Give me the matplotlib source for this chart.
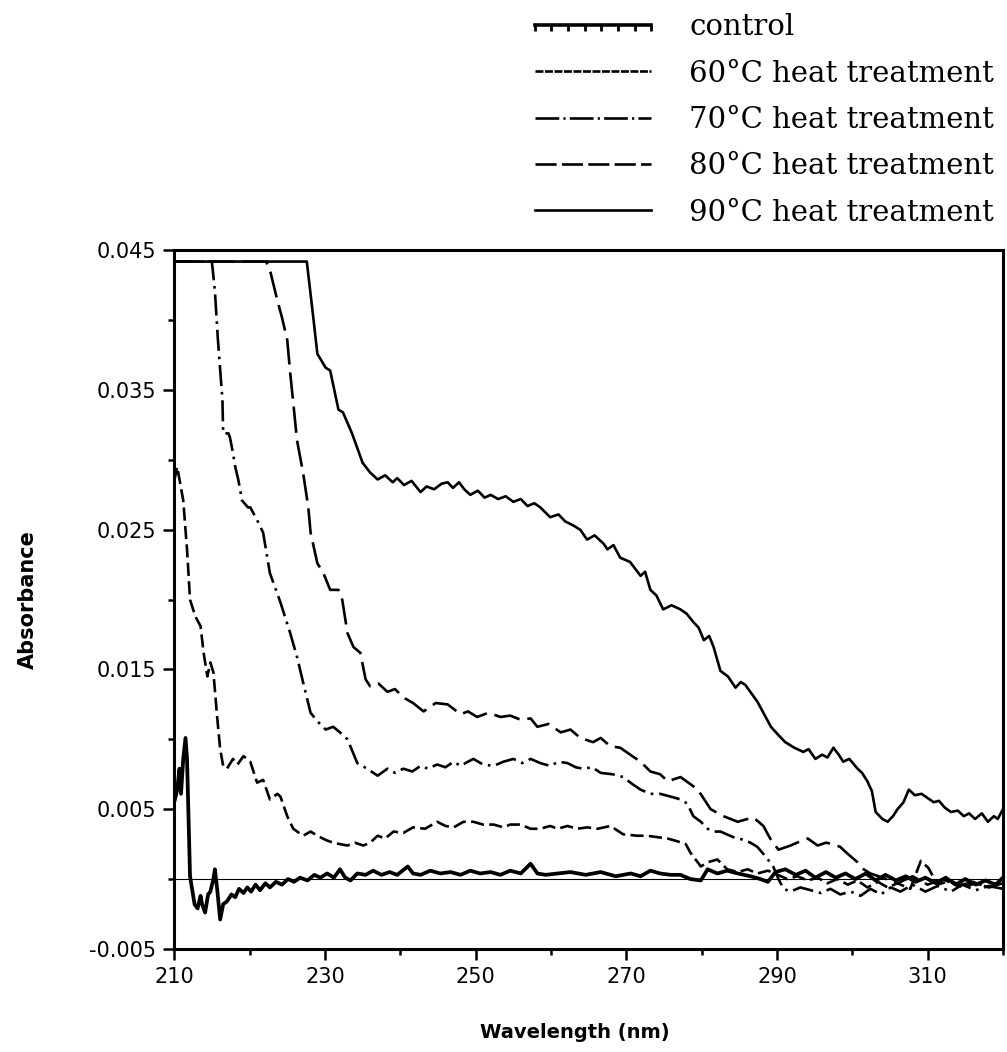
import numpy as np
import matplotlib
matplotlib.use("Agg")
import matplotlib.pyplot as plt
from matplotlib.lines import Line2D

# ---- data (wavelength nm, absorbance) ----
wl_control = [210.0, 210.4, 210.7, 210.9, 211.2, 211.5, 211.7, 212.1, 212.7, 213.1, 213.5, 213.7,
              214.1, 214.5, 214.8, 215.2, 215.4, 215.7, 216.1, 216.5, 217.0, 217.6, 218.1, 218.6,
              219.2, 219.7, 220.2, 220.8, 221.4, 222.1, 222.7, 223.5, 224.3, 225.1, 225.9, 226.7,
              227.7, 228.6, 229.4, 230.3, 231.2, 232.0, 232.7, 233.4, 234.3, 235.4, 236.4, 237.5,
              238.6, 239.6, 241.0, 241.7, 242.7, 244.0, 245.3, 246.7, 248.0, 249.3, 250.6, 252.0,
              253.3, 254.6, 256.0, 257.3, 258.2, 259.3, 260.9, 262.6, 264.6, 266.6, 268.6, 270.6,
              271.9, 273.2, 274.5, 275.9, 277.2, 278.5, 279.9, 280.8, 282.1, 283.4, 284.8, 286.5,
              287.8, 288.8, 289.8, 291.1, 292.5, 293.8, 295.1, 296.5, 297.8, 299.1, 300.4, 301.8,
              303.1, 304.4, 305.8, 307.1, 308.4, 309.7, 311.1, 312.4, 313.7, 315.0, 316.4, 317.7,
              319.0, 320.0]
abs_control = [0.0055, 0.0064, 0.0079, 0.0061, 0.0086, 0.0101, 0.0086, 0.0002, -0.0018, -0.0021, -0.0012, -0.0018,
               -0.0024, -0.0011, -0.0009, 0.0000, 0.0007, -0.0007, -0.0029, -0.0018, -0.0016, -0.0011, -0.0013, -0.0007,
               -0.0010, -0.0006, -0.0009, -0.0004, -0.0008, -0.0003, -0.0006, -0.0002, -0.0004, 0.0000, -0.0002, 0.0001,
               -0.0001, 0.0003, 0.0001, 0.0004, 0.0001, 0.0007, 0.0001, -0.0001, 0.0004, 0.0003, 0.0006, 0.0003,
               0.0005, 0.0003, 0.0009, 0.0004, 0.0003, 0.0006, 0.0004, 0.0005, 0.0003, 0.0006, 0.0004, 0.0005,
               0.0003, 0.0006, 0.0004, 0.0011, 0.0004, 0.0003, 0.0004, 0.0005, 0.0003, 0.0005, 0.0002, 0.0004,
               0.0002, 0.0006, 0.0004, 0.0003, 0.0003, 0.0000, -0.0001, 0.0007, 0.0004, 0.0006, 0.0004, 0.0002,
               0.0000, -0.0002, 0.0005, 0.0007, 0.0003, 0.0006, 0.0001, 0.0005, 0.0001, 0.0004, 0.0000, 0.0004,
               -0.0001, 0.0003, -0.0001, 0.0002, -0.0002, 0.0001, -0.0003, 0.0001, -0.0004, 0.0000, -0.0004, -0.0001,
               -0.0004, 0.0001]

wl_60 = [210.0, 210.4, 211.2, 211.7, 212.1, 212.8, 213.5, 213.9, 214.4, 214.8, 215.2, 215.7,
         216.1, 216.5, 217.0, 217.8, 218.4, 219.2, 220.1, 221.0, 221.8, 222.7, 223.7, 224.1,
         225.0, 225.8, 227.1, 228.1, 229.0, 230.1, 231.1, 232.0, 233.0, 234.0, 235.1, 236.0,
         237.0, 238.0, 239.1, 240.4, 241.7, 243.3, 244.9, 246.0, 247.1, 248.4, 249.7, 251.0,
         252.4, 253.7, 254.6, 256.0, 257.3, 258.6, 259.9, 260.9, 262.2, 263.5, 264.8, 266.2,
         267.9, 269.6, 271.5, 272.8, 274.1, 275.5, 276.8, 277.9, 278.5, 279.9, 280.8, 282.1,
         283.4, 284.8, 286.1, 287.4, 288.8, 290.1, 291.4, 292.7, 294.1, 295.4, 296.7, 298.0,
         299.4, 300.7, 302.0, 303.4, 304.7, 306.0, 307.7, 309.1, 310.1, 311.3, 313.1, 314.6,
         316.4, 318.1, 320.0]
abs_60 = [0.0285, 0.0295, 0.0271, 0.0236, 0.0200, 0.0188, 0.0181, 0.0162, 0.0145, 0.0155, 0.0148, 0.0116,
          0.0093, 0.0081, 0.0079, 0.0086, 0.0082, 0.0088, 0.0084, 0.0069, 0.0071, 0.0057, 0.0061, 0.0059,
          0.0045, 0.0036, 0.0031, 0.0034, 0.0031, 0.0028, 0.0026, 0.0025, 0.0024, 0.0026, 0.0024, 0.0026,
          0.0031, 0.0029, 0.0034, 0.0033, 0.0037, 0.0036, 0.0041, 0.0038, 0.0037, 0.0041, 0.0041, 0.0039,
          0.0039, 0.0037, 0.0039, 0.0039, 0.0036, 0.0036, 0.0038, 0.0036, 0.0038, 0.0036, 0.0037, 0.0036,
          0.0038, 0.0032, 0.0031, 0.0031, 0.0030, 0.0029, 0.0027, 0.0025, 0.0019, 0.0009, 0.0012, 0.0014,
          0.0007, 0.0005, 0.0007, 0.0004, 0.0006, 0.0003, 0.0000, 0.0002, -0.0001, 0.0001, -0.0003, 0.0000,
          -0.0004, -0.0001, -0.0006, -0.0002, -0.0006, -0.0003, -0.0007, 0.0013, 0.0008, -0.0004, -0.0001, -0.0006,
          -0.0003, -0.0006, -0.0004]

wl_70 = [210.0, 215.0, 215.4, 215.8, 216.4, 216.5, 217.2, 217.4, 217.8, 218.1, 218.5, 219.0,
         219.8, 220.1, 221.0, 221.8, 222.7, 224.1, 225.4, 226.3, 227.1, 228.1, 229.0, 230.1,
         231.1, 232.0, 233.0, 234.3, 235.6, 237.0, 238.3, 239.3, 240.4, 241.6, 242.7, 243.7,
         244.9, 246.0, 247.1, 248.0, 249.0, 249.7, 251.0, 252.4, 253.7, 255.0, 256.2, 257.3,
         258.6, 259.9, 261.0, 262.2, 263.3, 264.3, 265.5, 266.6, 268.2, 269.6, 270.8, 271.9,
         273.2, 274.5, 275.9, 277.2, 278.1, 278.9, 279.9, 280.8, 281.6, 282.5, 284.2, 285.6,
         286.5, 287.4, 288.2, 288.8, 289.5, 290.2, 290.9, 291.8, 293.1, 294.5, 295.8, 297.1,
         298.4, 299.8, 301.1, 302.4, 303.8, 305.1, 306.4, 308.0, 309.7, 311.3, 313.1, 314.6,
         316.4, 318.1, 320.0]
abs_70 = [0.0442, 0.0442, 0.0421, 0.0386, 0.0343, 0.0319, 0.0319, 0.0316, 0.0305, 0.0295, 0.0286, 0.0271,
          0.0266, 0.0266, 0.0257, 0.0248, 0.0219, 0.0198, 0.0176, 0.0159, 0.0141, 0.0119, 0.0113, 0.0107,
          0.0109, 0.0105, 0.0100, 0.0083, 0.0079, 0.0074, 0.0079, 0.0076, 0.0079, 0.0077, 0.0081, 0.0079,
          0.0082, 0.0080, 0.0084, 0.0081, 0.0084, 0.0086, 0.0082, 0.0081, 0.0084, 0.0086, 0.0083, 0.0086,
          0.0083, 0.0081, 0.0084, 0.0083, 0.0080, 0.0079, 0.0080, 0.0076, 0.0075, 0.0073, 0.0068, 0.0064,
          0.0061, 0.0061, 0.0059, 0.0057, 0.0054, 0.0045, 0.0041, 0.0036, 0.0034, 0.0034, 0.0030, 0.0028,
          0.0026, 0.0023, 0.0018, 0.0014, 0.0009, 0.0000, -0.0007, -0.0009, -0.0006, -0.0008, -0.0010, -0.0007,
          -0.0011, -0.0009, -0.0012, -0.0007, -0.0011, -0.0006, -0.0009, -0.0004, -0.0009, -0.0005, -0.0009, -0.0004,
          -0.0008, -0.0005, -0.0007]

wl_80 = [210.0, 222.2, 222.7, 223.7, 224.3, 225.0, 225.4, 225.8, 226.3, 227.1, 227.8, 228.1,
         229.0, 229.8, 230.7, 231.8, 232.3, 233.0, 233.8, 234.7, 235.4, 236.0, 237.1, 238.3,
         239.3, 240.4, 241.7, 243.1, 244.7, 246.3, 248.0, 249.0, 250.2, 251.7, 253.3, 254.6,
         256.0, 257.3, 258.2, 259.7, 261.3, 262.6, 263.9, 265.6, 266.6, 267.9, 269.2, 270.8,
         271.9, 273.2, 274.5, 275.5, 277.2, 278.5, 279.5, 281.2, 282.9, 284.8, 286.1, 286.9,
         288.2, 289.1, 290.2, 291.8, 293.1, 294.1, 295.4, 296.5, 297.5, 298.4, 299.4, 300.7,
         301.5, 302.4, 304.0, 306.0, 308.0, 310.0, 312.0, 314.0, 316.0, 318.0, 320.0]
abs_80 = [0.0442, 0.0442, 0.0436, 0.0414, 0.0402, 0.0386, 0.0362, 0.0341, 0.0314, 0.0291, 0.0266, 0.0248,
          0.0226, 0.0219, 0.0207, 0.0207, 0.0200, 0.0176, 0.0166, 0.0162, 0.0143, 0.0138, 0.0140, 0.0134,
          0.0136, 0.0130, 0.0126, 0.0120, 0.0126, 0.0125, 0.0118, 0.0120, 0.0116, 0.0119, 0.0116, 0.0117,
          0.0114, 0.0115, 0.0109, 0.0111, 0.0105, 0.0107, 0.0101, 0.0098, 0.0101, 0.0095, 0.0094, 0.0088,
          0.0084, 0.0077, 0.0075, 0.0070, 0.0073, 0.0068, 0.0064, 0.0050, 0.0045, 0.0041, 0.0043, 0.0044,
          0.0038, 0.0029, 0.0021, 0.0024, 0.0027, 0.0029, 0.0024, 0.0026, 0.0025, 0.0023, 0.0018, 0.0012,
          0.0007, 0.0004, 0.0001, -0.0003, 0.0002, -0.0004, 0.0000, -0.0005, -0.0002, -0.0006, -0.0003]

wl_90 = [210.0, 227.6, 228.5, 229.0, 230.1, 230.7, 231.8, 232.4, 233.6, 235.0, 236.0, 237.0,
         238.0, 239.0, 239.6, 240.5, 241.5, 242.7, 243.5, 244.5, 245.5, 246.3, 247.0, 247.8,
         248.5, 249.3, 250.3, 251.2, 252.0, 253.0, 254.0, 255.0, 256.0, 256.9, 257.8, 258.6,
         259.9, 261.0, 261.9, 263.0, 263.9, 264.8, 265.8, 267.0, 267.5, 268.3, 269.2, 270.5,
         271.9, 272.5, 273.2, 274.0, 274.9, 276.0, 277.2, 278.0, 278.9, 279.6, 280.3, 281.0,
         281.6, 282.5, 283.5, 284.5, 285.2, 285.8, 286.6, 287.4, 288.3, 289.2, 290.2, 291.1,
         292.3, 293.5, 294.2, 295.1, 296.0, 296.7, 297.5, 298.2, 298.8, 299.6, 300.7, 301.3,
         302.0, 302.6, 303.1, 304.0, 304.7, 305.4, 306.0, 306.8, 307.5, 308.3, 309.2, 310.0,
         310.8, 311.5, 312.3, 313.1, 314.0, 314.8, 315.5, 316.3, 317.2, 318.0, 318.8, 319.3,
         320.0]
abs_90 = [0.0442, 0.0442, 0.0400, 0.0376, 0.0366, 0.0364, 0.0336, 0.0334, 0.0319, 0.0298, 0.0291, 0.0286,
          0.0289, 0.0284, 0.0287, 0.0282, 0.0285, 0.0277, 0.0281, 0.0279, 0.0283, 0.0284, 0.0280, 0.0284,
          0.0279, 0.0275, 0.0278, 0.0273, 0.0275, 0.0272, 0.0274, 0.0270, 0.0272, 0.0267, 0.0269, 0.0266,
          0.0259, 0.0261, 0.0256, 0.0253, 0.0250, 0.0243, 0.0246, 0.0240, 0.0236, 0.0239, 0.0230, 0.0227,
          0.0217, 0.0220, 0.0207, 0.0203, 0.0193, 0.0196, 0.0193, 0.0190, 0.0184, 0.0180, 0.0171, 0.0174,
          0.0166, 0.0149, 0.0145, 0.0137, 0.0141, 0.0139, 0.0133, 0.0127, 0.0118, 0.0109, 0.0103, 0.0098,
          0.0094, 0.0091, 0.0093, 0.0086, 0.0089, 0.0087, 0.0094, 0.0089, 0.0084, 0.0086, 0.0079, 0.0076,
          0.0070, 0.0063, 0.0048, 0.0043, 0.0041, 0.0045, 0.0050, 0.0055, 0.0064, 0.0060, 0.0061, 0.0058,
          0.0055, 0.0056, 0.0051, 0.0048, 0.0049, 0.0045, 0.0047, 0.0043, 0.0047, 0.0041, 0.0045, 0.0043,
          0.0050]

labels = ["control", "60\u00b0C heat treatment", "70\u00b0C heat treatment",
          "80\u00b0C heat treatment", "90\u00b0C heat treatment"]

x_major = [210, 230, 250, 270, 290, 310]
y_major = [-0.005, 0.005, 0.015, 0.025, 0.035, 0.045]

fig = plt.figure(figsize=(10.07, 10.52), dpi=100)
ax = fig.add_axes([0.173, 0.098, 0.823, 0.664])

ax.axhline(0, color="black", lw=0.8, zorder=1)

lw = 1.9
ax.plot(wl_control, abs_control, color="black", lw=2.7, solid_joinstyle="round")
ax.plot(wl_60, abs_60, color="black", lw=lw, dashes=(5, 2))
ax.plot(wl_70, abs_70, color="black", lw=lw, dashes=(8, 2.2, 1, 2.2))
ax.plot(wl_80, abs_80, color="black", lw=lw, dashes=(10, 3))
ax.plot(wl_90, abs_90, color="black", lw=lw)

ax.set_xlim(210, 320)
ax.set_ylim(-0.005, 0.045)
ax.set_xticks(x_major)
ax.set_xticks(np.arange(220, 321, 20), minor=True)
ax.set_yticks(y_major)
ax.set_yticklabels(["-0.005", "0.005", "0.015", "0.025", "0.035", "0.045"])
ax.set_yticks([0.0, 0.01, 0.02, 0.03, 0.04], minor=True)
ax.tick_params(which="major", length=8, width=1.8, labelsize=15, pad=5)
ax.tick_params(which="minor", length=4, width=1.8)
for s in ax.spines.values():
    s.set_linewidth(2.2)

ax.set_xlabel("Wavelength (nm)", fontsize=14, fontweight="bold")
ax.xaxis.set_label_coords(0.483, -0.106)
ax.set_ylabel("Absorbance", fontsize=15, fontweight="bold")
ax.yaxis.set_label_coords(-0.165, 0.5)

# legend sits above the plot, right aligned
handles = [
    Line2D([], [], color="black", lw=2.6, marker=3, markersize=4, markeredgewidth=2),
    Line2D([], [], color="black", lw=lw, dashes=(3, 0.6)),
    Line2D([], [], color="black", lw=lw, dashes=(9, 1.6, 0.8, 1.6)),
    Line2D([], [], color="black", lw=lw, dashes=(8, 2)),
    Line2D([], [], color="black", lw=lw),
]
fig.legend(handles, labels, loc="upper right", bbox_to_anchor=(1.0, 1.0), frameon=False,
           prop={"family": "DejaVu Serif", "size": 21}, handlelength=4.6, handletextpad=1.0,
           labelspacing=0.63, numpoints=8, borderaxespad=0.0, borderpad=0.45)

fig.savefig("out.png", dpi=100)
